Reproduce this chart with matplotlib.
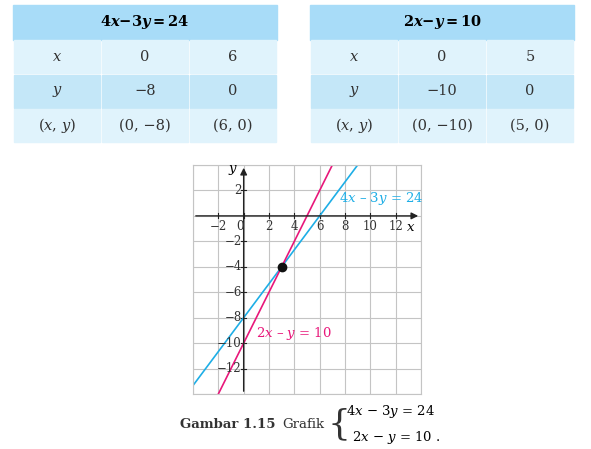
import matplotlib.pyplot as plt
from matplotlib.patches import Rectangle
import numpy as np

W, H = 591, 449

# table data
tab1_title = r'$\mathbf{4}\boldsymbol{x}\mathbf{-3}\boldsymbol{y}\mathbf{=24}$'
tab1_rows = [[r'$x$', '0', '6'], [r'$y$', '−8', '0'], [r'$(x,\,y)$', '(0, −8)', '(6, 0)']]
tab2_title = r'$\mathbf{2}\boldsymbol{x}\mathbf{-}\boldsymbol{y}\mathbf{=10}$'
tab2_rows = [[r'$x$', '0', '5'], [r'$y$', '−10', '0'], [r'$(x,\,y)$', '(0, −10)', '(5, 0)']]

# lines: (x1, y1), (x2, y2) points from the tables
line1_pts = [(0, -8), (6, 0)]
line2_pts = [(0, -10), (5, 0)]
solution = (3, -4)
xticks = [-2, 0, 2, 4, 6, 8, 10, 12]
yticks = [2, -2, -4, -6, -8, -10, -12]

fig = plt.figure(figsize=(W / 100, H / 100), dpi=100)
plt.rcParams['mathtext.fontset'] = 'dejavuserif'


def px(x, y):
    return x / W, 1 - y / H


def draw_table(x0, title, rows):
    cw = [88, 88, 88]
    y0, rh = 5, 34.5
    colors = ['#e0f3fc', '#c4e7f8', '#e0f3fc']
    fx, fy = px(x0, y0 + rh)
    fig.patches.append(Rectangle((fx, fy), sum(cw) / W, rh / H, transform=fig.transFigure,
                                 color='#a8dcf8'))
    cx, cy = px(x0 + sum(cw) / 2, y0 + rh / 2)
    fig.text(cx, cy, title, ha='center', va='center', fontsize=10.5, family='DejaVu Serif')
    for i, row in enumerate(rows):
        yt = y0 + rh * (i + 1)
        xc = x0
        for j, val in enumerate(row):
            fx, fy = px(xc + 1, yt + rh - 1)
            fig.patches.append(Rectangle((fx, fy), (cw[j] - 2) / W, (rh - 2) / H,
                                         transform=fig.transFigure, color=colors[i]))
            cx, cy = px(xc + cw[j] / 2, yt + rh / 2)
            fig.text(cx, cy, val, ha='center', va='center', fontsize=10.5,
                     family='DejaVu Serif', color='#333333')
            xc += cw[j]


draw_table(13, tab1_title, tab1_rows)
draw_table(310, tab2_title, tab2_rows)

# graph
ax = fig.add_axes([193 / W, (H - 394) / H, 228 / W, 229 / H])
ax.set_xlim(-4, 14)
ax.set_ylim(-14, 4)
ax.set_xticks(np.arange(-4, 15, 2))
ax.set_yticks(np.arange(-14, 5, 2))
ax.grid(color='#c4c4c4', lw=0.8)
ax.tick_params(length=0, labelbottom=False, labelleft=False)
for s in ax.spines.values():
    s.set_color('#c4c4c4')
    s.set_linewidth(0.8)
ax.annotate('', xy=(14, 0), xytext=(-4, 0), arrowprops=dict(arrowstyle='-|>', color='#222222', lw=1))
ax.annotate('', xy=(0, 4), xytext=(0, -14), arrowprops=dict(arrowstyle='-|>', color='#222222', lw=1))

for t in xticks:
    ax.plot([t, t], [-0.2, 0.2], color='#222222', lw=0.8)
    lab = f'{t}'.replace('-', '−')
    ax.text(t - (0.3 if t == 0 else 0), -0.35, lab, ha='center', va='top', fontsize=8.5,
            family='DejaVu Serif', color='#333333')
for t in yticks:
    ax.plot([-0.2, 0.2], [t, t], color='#222222', lw=0.8)
    ax.text(-0.15, t, f'{t}'.replace('-', '−'), ha='right', va='center', fontsize=8.5,
            family='DejaVu Serif', color='#333333')
ax.text(13.2, -0.4, r'$x$', ha='center', va='top', fontsize=9.5)
ax.text(-0.4, 3.6, r'$y$', ha='right', va='center', fontsize=9.5)

xs = np.array([-4.0, 14.0])
(a1, b1), (a2, b2) = line1_pts
m = (b2 - b1) / (a2 - a1)
ax.plot(xs, b1 + m * (xs - a1), color='#1eaee6', lw=1.2)
(a1, b1), (a2, b2) = line2_pts
m = (b2 - b1) / (a2 - a1)
ax.plot(xs, b1 + m * (xs - a1), color='#e8177a', lw=1.2)
ax.plot(*solution, 'o', color='#111111', ms=6, zorder=5)
ax.text(7.5, 1.1, r'$4x$ – 3$y$ = 24', color='#1eaee6', fontsize=9.5, family='DejaVu Serif')
ax.text(1.0, -9.5, r'$2x$ – $y$ = 10', color='#e8177a', fontsize=9.5, family='DejaVu Serif')

# caption
fig.text(*px(180, 425), 'Gambar 1.15', fontsize=9.5, weight='bold', family='DejaVu Serif',
         va='center', color='#333333')
fig.text(*px(282, 425), 'Grafik', fontsize=9.5, family='DejaVu Serif', va='center', color='#333333')
fig.text(*px(328, 424), '{', fontsize=26, family='DejaVu Serif', va='center', color='#333333')
fig.text(*px(346, 411), r'$4x$ − 3$y$ = 24', fontsize=9.5, family='DejaVu Serif', va='center')
fig.text(*px(352, 437), r'$2x$ − $y$ = 10 .', fontsize=9.5, family='DejaVu Serif', va='center')

fig.savefig('out.png', dpi=100)
